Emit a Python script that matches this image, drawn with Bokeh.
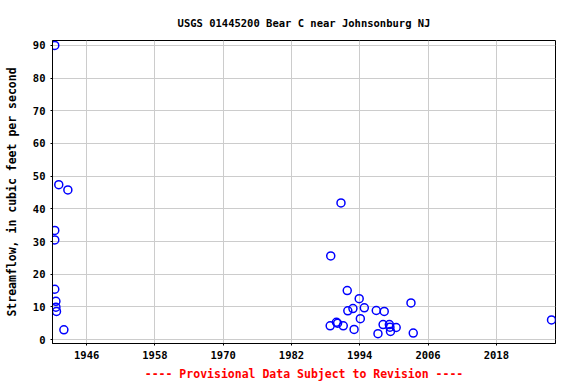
from bokeh.plotting import figure
from bokeh.embed import file_html
from bokeh.resources import INLINE
from bokeh.models import FixedTicker, Range1d

title_text = "USGS 01445200 Bear C near Johnsonburg NJ"
y_label = "Streamflow, in cubic feet per second"
footer = "---- Provisional Data Subject to Revision ----"

years = [1940.4, 1941.1, 1942.7, 1940.4, 1940.4, 1940.4, 1940.6, 1940.6, 1940.7, 1942.0,
         1990.7, 1988.9, 1991.8, 1993.9, 2003.0, 1991.9, 1992.8, 1994.8, 1996.9, 1998.3,
         1994.1, 1989.9, 1990.1, 1988.8, 1991.1, 1998.1, 1999.2, 1999.3, 2000.4, 1993.0,
         1999.4, 1997.2, 2003.4, 2027.7]
flows = [90.0, 47.4, 45.8, 33.4, 30.5, 15.4, 11.7, 9.9, 8.6, 3.0,
         41.8, 25.6, 15.0, 12.5, 11.2, 8.8, 9.5, 9.7, 8.9, 8.6,
         6.4, 5.3, 5.0, 4.2, 4.2, 4.6, 4.6, 3.8, 3.7, 3.1,
         2.5, 1.8, 2.0, 6.0]
x_ticks = [1946, 1958, 1970, 1982, 1994, 2006, 2018]
y_ticks = [0, 10, 20, 30, 40, 50, 60, 70, 80, 90]

FONT = "DejaVu Sans Mono"
FS = "10.5px"

p = figure(width=576, height=384, output_backend="svg", toolbar_location=None,
           x_range=Range1d(1940.0, 2028.4), y_range=Range1d(-1.2, 91.5),
           min_border_left=52, min_border_right=21, min_border_top=40, min_border_bottom=41)

p.title.text = title_text
p.title.align = "center"
p.title.text_font = FONT
p.title.text_font_size = FS
p.title.text_font_style = "bold"
p.title.text_color = "black"
p.title.standoff = 24

p.scatter(years, flows, marker="circle", size=8, fill_color=None,
          line_color="#0000ff", line_width=1.5)

p.xaxis.ticker = FixedTicker(ticks=x_ticks)
p.yaxis.ticker = FixedTicker(ticks=y_ticks)
for ax in (p.xaxis[0], p.yaxis[0]):
    ax.major_label_text_font = FONT
    ax.major_label_text_font_size = FS
    ax.major_label_text_font_style = "bold"
    ax.major_label_text_color = "black"
    ax.axis_label_text_font = FONT
    ax.axis_label_text_font_size = "11.5px"
    ax.axis_label_text_font_style = "bold"
    ax.axis_label_text_color = "black"
    ax.minor_tick_line_color = None
    ax.major_tick_in = 0
    ax.major_tick_out = 2
    ax.major_label_standoff = 5
    ax.axis_line_color = "black"
    ax.major_tick_line_color = "black"

p.yaxis.axis_label = y_label
p.yaxis.axis_label_standoff = 11
p.xaxis.axis_label = footer
p.xaxis.axis_label_text_color = "#ff0000"
p.xaxis.axis_label_standoff = 5

p.grid.grid_line_color = "#cccccc"
p.grid.grid_line_width = 1
p.outline_line_color = "black"
p.outline_line_width = 1

open("out.html", "w").write(file_html(p, INLINE))
